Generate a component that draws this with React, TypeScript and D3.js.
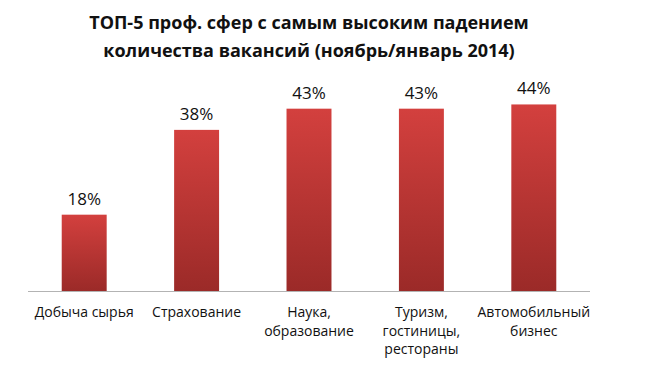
import React from 'react';
import * as d3 from 'd3';

const categories = ['Добыча сырья', 'Страхование', 'Наука, образование', 'Туризм, гостиницы, рестораны', 'Автомобильный бизнес'];
const categoryLines = [
  ['Добыча сырья'],
  ['Страхование'],
  ['Наука,', 'образование'],
  ['Туризм,', 'гостиницы,', 'рестораны'],
  ['Автомобильный', 'бизнес'],
];
const values = [18, 38, 43, 43, 44];
const titleLines = ['ТОП-5 проф. сфер с самым высоким падением', 'количества вакансий (ноябрь/январь 2014)'];

const width = 651;
const height = 384;
const margin = { top: 0, right: 61, bottom: 93, left: 28 };
const font = '"Open Sans", sans-serif';

export default function App() {
  const plotBottom = height - margin.bottom;

  const x = d3.scaleBand()
    .domain(categories)
    .range([margin.left, width - margin.right])
    .paddingInner(0.6)
    .paddingOuter(0.3);

  const y = d3.scaleLinear()
    .domain([0, 50])
    .range([plotBottom, plotBottom - 212]);

  const cx = (width - margin.right + margin.left) / 2;

  return (
    <svg width={width} height={height} style={{ display: 'block', position: 'absolute', left: 0, top: 0 }}>
      <defs>
        <linearGradient id="barGrad" x1="0" y1="0" x2="0" y2="1">
          <stop offset="0%" stopColor="#d3403e" />
          <stop offset="100%" stopColor="#9b2a28" />
        </linearGradient>
      </defs>
      <rect width={width} height={height} fill="#fff" />

      {titleLines.map((t, i) => (
        <text key={i} x={cx} y={29 + i * 28} textAnchor="middle" fontFamily={font}
          fontWeight="bold" fontSize={18} fill="#111">{t}</text>
      ))}

      {values.map((v, i) => {
        const c = categories[i];
        return (
          <g key={c}>
            <rect x={x(c)} y={y(v)} width={x.bandwidth()} height={plotBottom - y(v)} fill="url(#barGrad)" />
            <text x={(x(c) as number) + x.bandwidth() / 2} y={y(v) - 10} textAnchor="middle"
              fontFamily={font} fontSize={17} fill="#111">{v}%</text>
          </g>
        );
      })}

      <line x1={margin.left} x2={width - margin.right} y1={plotBottom + 0.5} y2={plotBottom + 0.5} stroke="#b3b3b3" />

      {categoryLines.map((lines, i) => (
        <text key={i} textAnchor="middle" fontFamily={font} fontSize={14} fill="#111">
          {lines.map((l, j) => (
            <tspan key={j} x={(x(categories[i]) as number) + x.bandwidth() / 2} y={plotBottom + 26 + j * 18.5}>{l}</tspan>
          ))}
        </text>
      ))}
    </svg>
  );
}
